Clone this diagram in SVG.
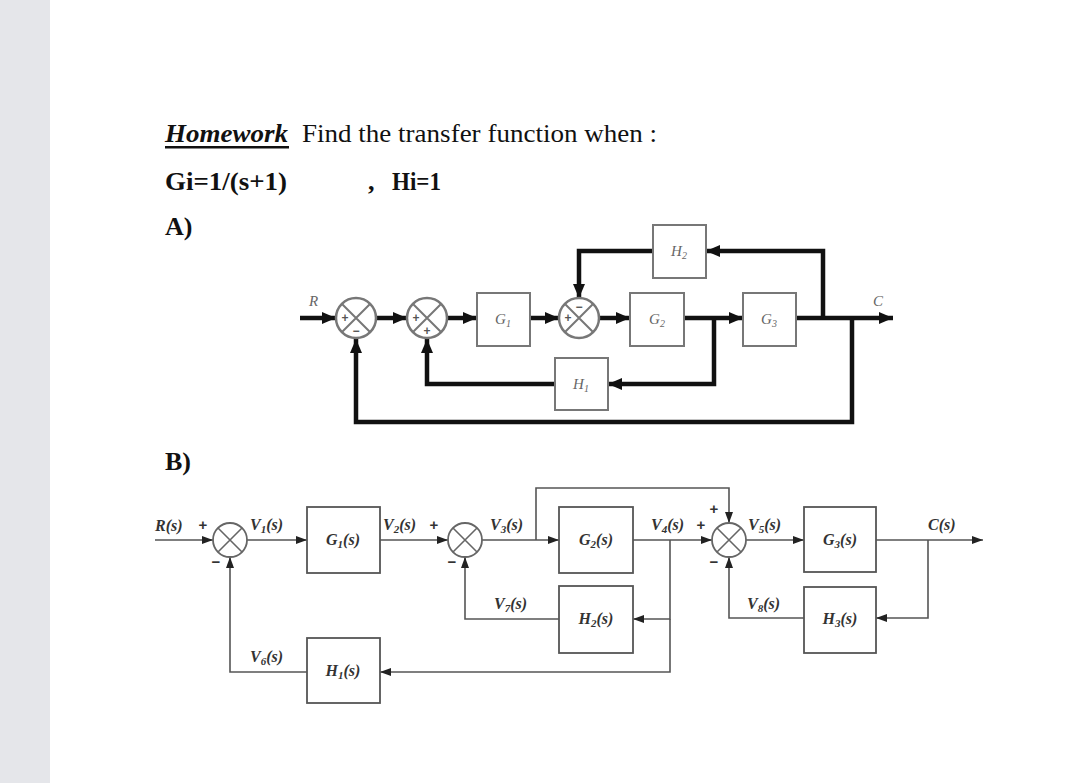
<svg xmlns="http://www.w3.org/2000/svg" width="1080" height="783" viewBox="0 0 1080 783">
<defs>
<style>
.hd{font-family:"Liberation Serif",serif;font-size:26px;fill:#111}
.b{font-weight:bold}
.la{font-family:"Liberation Serif",serif;font-style:italic;font-size:15px;fill:#666}
.lb{font-family:"Liberation Serif",serif;font-style:italic;font-weight:bold;font-size:16px;fill:#333}
.sg{font-family:"Liberation Sans",sans-serif;font-weight:bold;font-size:12px;fill:#555;text-anchor:middle}
.sb{font-family:"Liberation Sans",sans-serif;font-weight:bold;font-size:15px;fill:#333;text-anchor:middle}
.boxA{fill:#fff;stroke:#777;stroke-width:2}
.sumA{fill:#fff;stroke:#777;stroke-width:2.5}
.xA{stroke:#777;stroke-width:2}
.wA{fill:none;stroke:#111;stroke-width:4.5}
.boxB{fill:#fff;stroke:#555;stroke-width:1.8}
.sumB{fill:#fff;stroke:#666;stroke-width:1.8}
.xB{stroke:#666;stroke-width:1.6}
.wB{fill:none;stroke:#555;stroke-width:1.6}
.mid{text-anchor:middle}
</style>
<marker id="ahA" markerUnits="userSpaceOnUse" markerWidth="14" markerHeight="12" refX="14" refY="6" orient="auto"><path d="M0,0 L14,6 L0,12 z" fill="#111"/></marker>
<marker id="ahB" markerUnits="userSpaceOnUse" markerWidth="11" markerHeight="8" refX="11" refY="4" orient="auto"><path d="M0,0 L11,4 L0,8 z" fill="#222"/></marker>
</defs>
<rect x="0" y="0" width="1080" height="783" fill="#fff"/>
<rect x="0" y="0" width="50" height="783" fill="#e5e6ea"/>

<g id="header">
<text class="hd b" x="165" y="142" font-style="italic" textLength="123" lengthAdjust="spacingAndGlyphs">Homework</text>
<rect x="165" y="146" width="124" height="2.5" fill="#111"/>
<text class="hd" x="302" y="142" textLength="355" lengthAdjust="spacingAndGlyphs">Find the transfer function when :</text>
<text class="hd b" x="165" y="190" textLength="122" lengthAdjust="spacingAndGlyphs">Gi=1/(s+1)</text>
<text class="hd b" x="368" y="190">,</text>
<text class="hd b" x="392" y="190" textLength="49" lengthAdjust="spacingAndGlyphs">Hi=1</text>
<text class="hd b" x="165" y="235">A)</text>
<text class="hd b" x="165" y="470">B)</text>
</g>

<g id="connectorsA">
<path class="wA" d="M300,318 H336" marker-end="url(#ahA)"/>
<path class="wA" d="M377,318 H407" marker-end="url(#ahA)"/>
<path class="wA" d="M448,318 H477" marker-end="url(#ahA)"/>
<path class="wA" d="M530,318 H559" marker-end="url(#ahA)"/>
<path class="wA" d="M600,318 H630" marker-end="url(#ahA)"/>
<path class="wA" d="M684,318 H743" marker-end="url(#ahA)"/>
<path class="wA" d="M796,318 H893" marker-end="url(#ahA)"/>
<path class="wA" d="M714,318 V384 H608" marker-end="url(#ahA)"/>
<path class="wA" d="M555,384 H427 V339" marker-end="url(#ahA)"/>
<path class="wA" d="M852,318 V422 H356 V339" marker-end="url(#ahA)"/>
<path class="wA" d="M823,318 V251 H706" marker-end="url(#ahA)"/>
<path class="wA" d="M653,251 H579 V298" marker-end="url(#ahA)"/>
</g>

<g id="A-sum1">
<circle class="sumA" cx="356" cy="318" r="20"/>
<path class="xA" d="M342,304 L370,332 M370,304 L342,332"/>
<text class="sg" x="345" y="322">+</text>
<text class="sg" x="356" y="335">−</text>
</g>
<g id="A-sum2">
<circle class="sumA" cx="427" cy="318" r="20"/>
<path class="xA" d="M413,304 L441,332 M441,304 L413,332"/>
<text class="sg" x="416" y="322">+</text>
<text class="sg" x="427" y="335">+</text>
</g>
<g id="A-sum3">
<circle class="sumA" cx="579" cy="318" r="20"/>
<path class="xA" d="M565,304 L593,332 M593,304 L565,332"/>
<text class="sg" x="579" y="311">−</text>
<text class="sg" x="568" y="322">+</text>
</g>
<g id="A-G1"><rect class="boxA" x="477" y="293" width="53" height="53"/><text class="la mid" x="503" y="324">G<tspan font-size="10" dy="3">1</tspan></text></g>
<g id="A-G2"><rect class="boxA" x="630" y="293" width="54" height="53"/><text class="la mid" x="657" y="324">G<tspan font-size="10" dy="3">2</tspan></text></g>
<g id="A-G3"><rect class="boxA" x="743" y="293" width="53" height="53"/><text class="la mid" x="769" y="324">G<tspan font-size="10" dy="3">3</tspan></text></g>
<g id="A-H1"><rect class="boxA" x="555" y="358" width="53" height="52"/><text class="la mid" x="581" y="389">H<tspan font-size="10" dy="3">1</tspan></text></g>
<g id="A-H2"><rect class="boxA" x="653" y="225" width="53" height="53"/><text class="la mid" x="679" y="256">H<tspan font-size="10" dy="3">2</tspan></text></g>
<g id="A-labels">
<text class="la" x="309" y="306">R</text>
<text class="la" x="873" y="306">C</text>
</g>

<g id="connectorsB">
<path class="wB" d="M155,540 H213" marker-end="url(#ahB)"/>
<path class="wB" d="M247,540 H307" marker-end="url(#ahB)"/>
<path class="wB" d="M380,540 H448" marker-end="url(#ahB)"/>
<path class="wB" d="M482,540 H559" marker-end="url(#ahB)"/>
<path class="wB" d="M536,540 V488 H729 V523" marker-end="url(#ahB)"/>
<path class="wB" d="M633,540 H712" marker-end="url(#ahB)"/>
<path class="wB" d="M746,540 H804" marker-end="url(#ahB)"/>
<path class="wB" d="M876,540 H983" marker-end="url(#ahB)"/>
<path class="wB" d="M928,540 V618 H876" marker-end="url(#ahB)"/>
<path class="wB" d="M804,618 H729 V557" marker-end="url(#ahB)"/>
<path class="wB" d="M670,540 V619 H633" marker-end="url(#ahB)"/>
<path class="wB" d="M559,619 H465 V557" marker-end="url(#ahB)"/>
<path class="wB" d="M670,619 V672 H380" marker-end="url(#ahB)"/>
<path class="wB" d="M307,672 H230 V557" marker-end="url(#ahB)"/>
</g>

<g id="B-sum1"><circle class="sumB" cx="230" cy="540" r="17"/><path class="xB" d="M218,528 L242,552 M242,528 L218,552"/></g>
<g id="B-sum2"><circle class="sumB" cx="465" cy="540" r="17"/><path class="xB" d="M453,528 L477,552 M477,528 L453,552"/></g>
<g id="B-sum3"><circle class="sumB" cx="729" cy="540" r="17"/><path class="xB" d="M717,528 L741,552 M741,528 L717,552"/></g>

<g id="B-G1"><rect class="boxB" x="307" y="507" width="73" height="66"/><text class="lb mid" x="343" y="545">G<tspan font-size="11" dy="3">1</tspan><tspan dy="-3">(s)</tspan></text></g>
<g id="B-G2"><rect class="boxB" x="559" y="507" width="74" height="66"/><text class="lb mid" x="596" y="545">G<tspan font-size="11" dy="3">2</tspan><tspan dy="-3">(s)</tspan></text></g>
<g id="B-G3"><rect class="boxB" x="804" y="507" width="72" height="65"/><text class="lb mid" x="840" y="545">G<tspan font-size="11" dy="3">3</tspan><tspan dy="-3">(s)</tspan></text></g>
<g id="B-H1"><rect class="boxB" x="307" y="638" width="73" height="65"/><text class="lb mid" x="343" y="676">H<tspan font-size="11" dy="3">1</tspan><tspan dy="-3">(s)</tspan></text></g>
<g id="B-H2"><rect class="boxB" x="559" y="586" width="74" height="67"/><text class="lb mid" x="596" y="624">H<tspan font-size="11" dy="3">2</tspan><tspan dy="-3">(s)</tspan></text></g>
<g id="B-H3"><rect class="boxB" x="804" y="587" width="72" height="66"/><text class="lb mid" x="840" y="624">H<tspan font-size="11" dy="3">3</tspan><tspan dy="-3">(s)</tspan></text></g>

<g id="B-labels">
<text class="lb" x="155" y="531">R(s)</text>
<text class="sb" x="203" y="530">+</text>
<text class="sb" x="216" y="567">−</text>
<text class="lb" x="250" y="530">V<tspan font-size="11" dy="3">1</tspan><tspan dy="-3">(s)</tspan></text>
<text class="lb" x="383" y="530">V<tspan font-size="11" dy="3">2</tspan><tspan dy="-3">(s)</tspan></text>
<text class="sb" x="434" y="530">+</text>
<text class="sb" x="452" y="567">−</text>
<text class="lb" x="490" y="530">V<tspan font-size="11" dy="3">3</tspan><tspan dy="-3">(s)</tspan></text>
<text class="lb" x="651" y="530">V<tspan font-size="11" dy="3">4</tspan><tspan dy="-3">(s)</tspan></text>
<text class="sb" x="701" y="530">+</text>
<text class="sb" x="714" y="514">+</text>
<text class="sb" x="714" y="567">−</text>
<text class="lb" x="748" y="530">V<tspan font-size="11" dy="3">5</tspan><tspan dy="-3">(s)</tspan></text>
<text class="lb" x="928" y="530">C(s)</text>
<text class="lb" x="494" y="609">V<tspan font-size="11" dy="3">7</tspan><tspan dy="-3">(s)</tspan></text>
<text class="lb" x="747" y="609">V<tspan font-size="11" dy="3">8</tspan><tspan dy="-3">(s)</tspan></text>
<text class="lb" x="250" y="662">V<tspan font-size="11" dy="3">6</tspan><tspan dy="-3">(s)</tspan></text>
</g>
</svg>
